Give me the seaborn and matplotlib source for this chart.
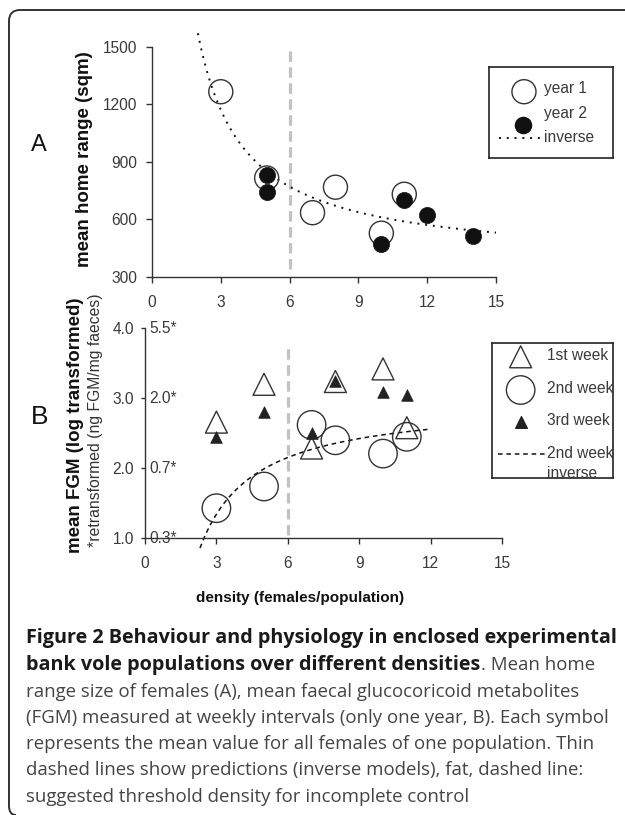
import numpy as np
import pandas as pd
import matplotlib
matplotlib.use("Agg")
import matplotlib.pyplot as plt
import seaborn as sns
from matplotlib.path import Path
from matplotlib.patches import PathPatch

# ---------------- data ----------------
density_y1 = [3, 5, 7, 8, 10, 11]
home_y1 = [1265, 815, 634, 767, 527, 730]
density_y2 = [5, 5, 10, 11, 12, 14]
home_y2 = [831, 744, 471, 700, 622, 512]

# inverse model (home range): y = a + b / x
inv_a_home, inv_b_home = 370.0, 2400.0
inv_x_home = (2.0, 15.0)

week_density = [3, 5, 7, 8, 10, 11]
fgm_week1 = [2.66, 3.20, 2.29, 3.24, 3.42, 2.58]
fgm_week2 = [1.43, 1.74, 2.62, 2.40, 2.21, 2.45]
fgm_week3 = [2.45, 2.81, 2.50, 3.24, 3.09, 3.05]

# inverse model (2nd week FGM)
inv_a_fgm, inv_b_fgm = 2.965, -4.863
inv_x_fgm = (2.31, 12.0)

threshold = 6
x_ticks = [0, 3, 6, 9, 12, 15]
home_ticks = [300, 600, 900, 1200, 1500]
fgm_ticks = [1.0, 2.0, 3.0, 4.0]
fgm_tick_labels = ["1.0", "2.0", "3.0", "4.0"]
retrans_labels = ["0.3*", "0.7*", "2.0*", "5.5*"]

caption_lines = [
    ("Figure 2 Behaviour and physiology in enclosed experimental", ""),
    ("bank vole populations over different densities", ". Mean home"),
    ("", "range size of females (A), mean faecal glucocoricoid metabolites"),
    ("", "(FGM) measured at weekly intervals (only one year, B). Each symbol"),
    ("", "represents the mean value for all females of one population. Thin"),
    ("", "dashed lines show predictions (inverse models), fat, dashed line:"),
    ("", "suggested threshold density for incomplete control"),
]

# ---------------- style ----------------
sns.set_style("ticks")
plt.rcParams["font.family"] = ["Liberation Sans", "DejaVu Sans"]
INK = "#333333"
plt.rcParams.update({
    "axes.edgecolor": INK,
    "axes.linewidth": 1.0,
    "xtick.color": INK,
    "ytick.color": INK,
    "xtick.labelcolor": "#3a3a3a",
    "ytick.labelcolor": "#3a3a3a",
})

W, H = 625, 815
fig = plt.figure(figsize=(W / 100, H / 100), dpi=100)


def fx(px):
    return px / W


def fy(py):
    return 1 - py / H


TICK_FS = 11.2

# ---------------- panel A ----------------
axA = fig.add_axes([fx(152), fy(276.7), fx(496) - fx(152), fy(46.7) - fy(276.7)])
axA.vlines(threshold, 340, 1475, colors="#c2c2c2", linewidth=2.3,
           linestyles=(0, (3.3, 1.7)), zorder=1)

dfA1 = pd.DataFrame({"density": density_y1, "home": home_y1})
dfA2 = pd.DataFrame({"density": density_y2, "home": home_y2})
sns.scatterplot(data=dfA1, x="density", y="home", ax=axA, marker="o", s=300,
                facecolor="none", edgecolor=INK, linewidth=1.0, zorder=3)
sns.scatterplot(data=dfA2, x="density", y="home", ax=axA, marker="o", s=135,
                color="#111111", edgecolor="#111111", linewidth=0.5, zorder=4)
xs = np.linspace(inv_x_home[0], inv_x_home[1], 200)
sns.lineplot(x=xs, y=inv_a_home + inv_b_home / xs, ax=axA, color="#111111",
             linestyle=(0, (1, 3)), linewidth=1.4, clip_on=False, zorder=2)

axA.set_xlim(0, 15)
axA.set_ylim(300, 1500)
axA.set_xticks(x_ticks)
axA.set_yticks(home_ticks)
axA.tick_params(axis="y", length=4, width=1, pad=6.5, labelsize=TICK_FS)
axA.tick_params(axis="x", length=4, width=1, pad=9, labelsize=TICK_FS)
sns.despine(ax=axA)
axA.set_xlabel("")
axA.set_ylabel("mean home range (sqm)", fontsize=13.5, fontweight="bold",
               color="#111111", va="center")
axA.yaxis.set_label_coords(-0.195, 0.512)

# ---------------- panel B ----------------
axB = fig.add_axes([fx(145), fy(538.3), fx(502) - fx(145), fy(328.3) - fy(538.3)])
axB.vlines(threshold, 1.05, 3.76, colors="#c2c2c2", linewidth=2.3,
           linestyles=(0, (3.3, 1.7)), zorder=1)
dfB = pd.DataFrame({"density": week_density, "w1": fgm_week1,
                    "w2": fgm_week2, "w3": fgm_week3})
sns.scatterplot(data=dfB, x="density", y="w1", ax=axB, marker="^", s=250,
                facecolor="none", edgecolor=INK, linewidth=1.0, zorder=3)
sns.scatterplot(data=dfB, x="density", y="w2", ax=axB, marker="o", s=420,
                facecolor="none", edgecolor=INK, linewidth=1.0, zorder=3)
sns.scatterplot(data=dfB, x="density", y="w3", ax=axB, marker="^", s=70,
                color="#222222", edgecolor="#222222", linewidth=0.5, zorder=4)
xs2 = np.linspace(inv_x_fgm[0], inv_x_fgm[1], 200)
sns.lineplot(x=xs2, y=inv_a_fgm + inv_b_fgm / xs2, ax=axB, color="#111111",
             linestyle=(0, (3, 2.5)), linewidth=1.1, clip_on=False, zorder=2)

axB.set_xlim(0, 15)
axB.set_ylim(1.0, 4.0)
axB.set_xticks(x_ticks)
axB.set_yticks(fgm_ticks)
axB.set_yticklabels(fgm_tick_labels)
axB.tick_params(axis="y", length=3, width=1, pad=5, labelsize=TICK_FS)
axB.tick_params(axis="x", length=4, width=1, pad=9, labelsize=TICK_FS)
sns.despine(ax=axB)
for v, lab in zip(fgm_ticks, retrans_labels):
    axB.text(0.011, v, lab, transform=axB.get_yaxis_transform(), ha="left",
             va="center", fontsize=TICK_FS, color="#3a3a3a")

axB.set_ylabel("mean FGM (log transformed)", fontsize=13.5, fontweight="bold",
               color="#111111", va="center")
axB.yaxis.set_label_coords(-0.196, 0.540)
axB.text(-0.140, 0.564, "*retransformed (ng FGM/mg faeces)", rotation=90,
         transform=axB.transAxes, ha="center", va="center", fontsize=11.3,
         color="#333333")
axB.set_xlabel("density (females/population)", fontsize=11, fontweight="bold",
               color="#111111", va="center")
axB.xaxis.set_label_coords(0.434, -0.284)

# panel letters
fig.text(fx(39), fy(145), "A", fontsize=17, ha="center", va="center", color="#111111")
fig.text(fx(40), fy(417), "B", fontsize=19, ha="center", va="center", color="#111111")

# ---------------- legends (drawn as small framed boxes) ----------------
def legend_box(x0, y0, x1, y1):
    lax = fig.add_axes([fx(x0), fy(y1), fx(x1) - fx(x0), fy(y0) - fy(y1)])
    lax.set_xlim(0, 1)
    lax.set_ylim(0, 1)
    lax.set_xticks([])
    lax.set_yticks([])
    for sp in lax.spines.values():
        sp.set_visible(True)
        sp.set_color("#222222")
        sp.set_linewidth(1.2)
    lax.set_facecolor("white")
    return lax


LEG_FS = 11.2
legA = legend_box(489.3, 66.7, 612.7, 158.3)
legA.scatter([0.281], [0.727], s=300, facecolor="none", edgecolor=INK, linewidth=1.0)
legA.scatter([0.276], [0.364], s=135, color="#111111")
legA.plot([0.079, 0.435], [0.218, 0.218], color="#111111", linestyle=(0, (1, 3)), linewidth=1.4)
for yy, lab in zip([0.764, 0.491, 0.229], ["year 1", "year 2", "inverse"]):
    legA.text(0.446, yy, lab, fontsize=LEG_FS, va="center", ha="left", color="#3a3a3a")

legB = legend_box(491.7, 343.3, 613.3, 478.3)
legB.scatter([0.238], [0.90], marker="^", s=250, facecolor="none", edgecolor=INK, linewidth=1.0)
legB.scatter([0.238], [0.654], marker="o", s=420, facecolor="none", edgecolor=INK, linewidth=1.0)
legB.scatter([0.245], [0.42], marker="^", s=70, color="#222222")
legB.plot([0.054, 0.438], [0.18, 0.18], color="#111111", linestyle=(0, (3, 2.5)), linewidth=1.1)
for yy, lab in zip([0.91, 0.665, 0.43, 0.185, 0.035],
                   ["1st week", "2nd week", "3rd week", "2nd week", "inverse"]):
    legB.text(0.457, yy, lab, fontsize=LEG_FS, va="center", ha="left",
              color="#3a3a3a", clip_on=True)

# ---------------- border ----------------
verts = [(fx(625), fy(10)), (fx(20), fy(10)), (fx(9), fy(10)), (fx(9), fy(21)),
         (fx(9), fy(806)), (fx(9), fy(815)), (fx(16), fy(815))]
codes = [Path.MOVETO, Path.LINETO, Path.CURVE3, Path.CURVE3, Path.LINETO,
         Path.CURVE3, Path.CURVE3]
fig.add_artist(PathPatch(Path(verts, codes), transform=fig.transFigure,
                         facecolor="none", edgecolor="#333333", linewidth=1.4))

# ---------------- caption ----------------
renderer = fig.canvas.get_renderer()
CAP_BOLD_FS = 14.2
CAP_REG_FS = 13.4
baselines = [643, 670, 697, 723, 749, 775, 802]
for (bold, reg), by in zip(caption_lines, baselines):
    x = fx(26.5)
    if bold:
        t = fig.text(x, fy(by), bold, fontsize=CAP_BOLD_FS, fontweight="bold",
                     family=["Open Sans", "DejaVu Sans"], va="baseline",
                     ha="left", color="#1a1a1a")
        bb = t.get_window_extent(renderer=renderer)
        x = bb.x1 / fig.dpi / fig.get_figwidth()
    if reg:
        fig.text(x, fy(by), reg, fontsize=CAP_REG_FS, family=["Open Sans", "DejaVu Sans"],
                 va="baseline", ha="left", color="#444444")

fig.savefig("out.png", dpi=100, facecolor="white")
